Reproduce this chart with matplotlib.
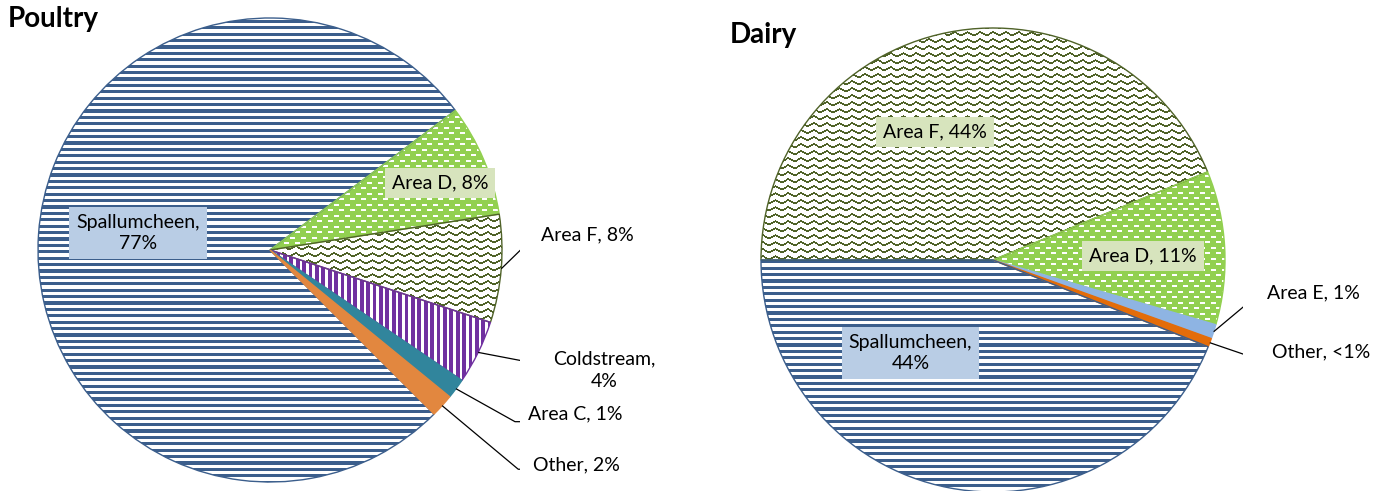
import matplotlib
matplotlib.use("Agg")
import matplotlib.pyplot as plt
import numpy as np
from matplotlib.colors import to_rgb

plt.rcParams['font.family'] = ['Lato', 'DejaVu Sans']

W, H, DPI = 1389, 491, 100
R = 232      # pie radius, px
HALF = 250   # half side of each pie axes, px
L = HALF / R

# ---------------- data ----------------
poultry_labels = ['Spallumcheen', 'Area D', 'Area F', 'Coldstream', 'Area C', 'Other']
poultry_values = [77.23, 7.8, 7.52, 4.45, 1.4, 1.6]

dairy_labels = ['Area F', 'Area D', 'Area E', 'Other', 'Spallumcheen']
dairy_values = [43.8, 10.7, 1.0, 0.6, 43.9]

# ---------------- styles ----------------
NAVY = '#3b5e8c'
GREEN = '#92d050'
OLIVE = '#4f6228'
PURPLE = '#7030a0'

poultry_style = {
    'Spallumcheen': ('hlines', NAVY, 'white', NAVY),
    'Area D': ('dashes', 'white', GREEN, GREEN),
    'Area F': ('zigzag', OLIVE, 'white', OLIVE),
    'Coldstream': ('vlines', PURPLE, 'white', PURPLE),
    'Area C': ('solid', '#31859c', None, '#31859c'),
    'Other': ('solid', '#e2873f', None, '#e2873f'),
}
dairy_style = {
    'Spallumcheen': ('hlines', NAVY, 'white', NAVY),
    'Area D': ('dashes', 'white', GREEN, GREEN),
    'Area F': ('zigzag', OLIVE, 'white', OLIVE),
    'Area E': ('solid', '#8eb4e3', None, '#8eb4e3'),
    'Other': ('solid', '#e36c09', None, '#e36c09'),
}

# label placement in pie-radius units: boxed labels centred, outside labels left-anchored + elbow
poultry_place = {
    'Spallumcheen': ('box', -0.569, 0.073, '#b9cde5'),
    'Area D': ('box', 0.733, 0.289, '#d7e4bd'),
    'Area F': ('out', 1.168, 0.065, (1.121, 0.040)),
    'Coldstream': ('out', 1.220, -0.519, (1.157, -0.491)),
    'Area C': ('out', 1.112, -0.707, (1.056, -0.740)),
    'Other': ('out', 1.134, -0.927, (1.070, -0.945)),
}
dairy_place = {
    'Area F': ('box', -0.250, 0.552, '#d7e4bd'),
    'Area D': ('box', 0.647, 0.017, '#d7e4bd'),
    'Spallumcheen': ('box', -0.356, -0.401, '#b9cde5'),
    'Area E': ('out', 1.180, -0.142, (1.115, -0.172)),
    'Other': ('out', 1.201, -0.395, (1.144, -0.428)),
}

# ---------------- textures ----------------
yy, xx = np.mgrid[0:2 * HALF, 0:2 * HALF].astype(float)


def pattern_mask(kind):
    if kind == 'hlines':
        return (yy % 6.4) < 3.2
    if kind == 'vlines':
        return (xx % 6.4) < 3.8
    if kind == 'dashes':
        row = np.floor(yy / 5.5)
        shift = (row % 2) * 5.5
        return ((yy - row * 5.5) < 1.8) & (((xx + shift) % 11) < 5)
    if kind == 'zigzag':
        ph = (xx % 12.8) / 12.8
        off = np.round(np.abs(2 * ph - 1) * 3.5)
        return ((yy - off) % 7.0) < 2


def texture(kind, fg, bg):
    img = np.empty(yy.shape + (3,))
    img[:] = to_rgb(bg)
    img[pattern_mask(kind)] = to_rgb(fg)
    return img


def pct(v):
    return '<1%' if v < 1 else f'{v:.0f}%'


def draw_pie(ax, labels, values, startangle, style, place):
    wedges, _ = ax.pie(values, startangle=startangle, counterclock=False,
                       wedgeprops=dict(linewidth=1.0))
    for w, lab, v in zip(wedges, labels, values):
        kind, fg, bg, edge = style[lab]
        w.set_edgecolor(edge)
        if kind == 'solid':
            w.set_facecolor(fg)
        else:
            w.set_facecolor('none')
            im = ax.imshow(texture(kind, fg, bg), extent=(-L, L, -L, L),
                           interpolation='nearest', zorder=w.get_zorder() - 0.5)
            im.set_clip_path(w)

        sep = ',\n' if len(lab) > 8 else ', '
        txt = f'{lab}{sep}{pct(v)}'
        p = place[lab]
        if p[0] == 'box':
            ax.text(p[1], p[2], txt, ha='center', va='center', multialignment='center',
                    fontsize=14, linespacing=1.3, zorder=5,
                    bbox=dict(boxstyle='square,pad=0.35', fc=p[3], ec='none'))
        else:
            ax.text(p[1], p[2], txt, ha='left', va='center', multialignment='center',
                    fontsize=14, linespacing=1.4, zorder=5)
            mid = np.deg2rad((w.theta1 + w.theta2) / 2)
            ex, ey = p[3]
            ax.plot([np.cos(mid), ex, p[1] - 0.006], [np.sin(mid), ey, ey],
                    color='black', lw=0.9, zorder=4, solid_capstyle='butt')

    ax.set_xlim(-L, L)
    ax.set_ylim(-L, L)
    ax.set_aspect('equal')
    ax.axis('off')


fig = plt.figure(figsize=(W / DPI, H / DPI), dpi=DPI)


def pie_axes(cx, cy):
    # cx, cy: pie centre in px from top-left
    return fig.add_axes([(cx - HALF) / W, (H - cy - HALF) / H, 2 * HALF / W, 2 * HALF / H])


ax1 = pie_axes(270, 250)
ax2 = pie_axes(993, 260)

draw_pie(ax1, poultry_labels, poultry_values, -45, poultry_style, poultry_place)
draw_pie(ax2, dairy_labels, dairy_values, 180, dairy_style, dairy_place)

fig.text(8 / W, 1 - 26.7 / H, 'Poultry', fontsize=20, fontweight='bold', va='baseline')
fig.text(730 / W, 1 - 42.7 / H, 'Dairy', fontsize=20, fontweight='bold', va='baseline')

fig.savefig('out.png', dpi=DPI)
